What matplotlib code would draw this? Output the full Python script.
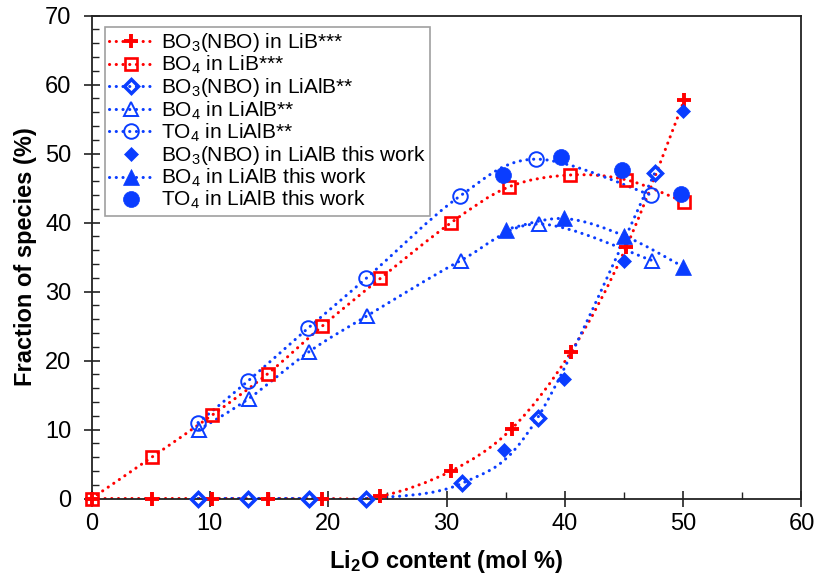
import matplotlib
matplotlib.use("Agg")
import matplotlib.pyplot as plt
from matplotlib.path import Path
from matplotlib.patches import PathPatch
from matplotlib.lines import Line2D
from matplotlib.ticker import MultipleLocator

plt.rcParams['font.family'] = ['Liberation Sans', 'DejaVu Sans']
plt.rcParams['mathtext.fontset'] = 'custom'
plt.rcParams['mathtext.rm'] = 'Liberation Sans'
plt.rcParams['mathtext.it'] = 'Liberation Sans:italic'
plt.rcParams['mathtext.bf'] = 'Liberation Sans:bold'

RED = '#FF0000'
BLUE = '#0A3DFF'

# LiB*** (literature)
lib_bo3_x = [0, 5.1, 10.2, 14.9, 19.5, 24.4, 30.4, 35.5, 40.5, 45.2, 50.1]
lib_bo3_y = [0, 0, 0, 0, 0, 0.3, 4.0, 10.1, 21.2, 36.5, 57.8]
lib_bo4_x = [0, 5.1, 10.2, 14.9, 19.5, 24.4, 30.4, 35.3, 40.4, 45.2, 50.1]
lib_bo4_y = [0, 6.0, 12.1, 18.1, 25.0, 31.9, 40.0, 45.2, 46.9, 46.2, 43.0]

# LiAlB** (literature)
lialb_bo3_x = [9.0, 13.2, 18.4, 23.2, 31.3, 37.7, 47.6]
lialb_bo3_y = [0, 0, 0, 0, 2.2, 11.7, 47.2]
lialb_bo4_x = [9.1, 13.3, 18.4, 23.3, 31.2, 37.8, 47.4]
lialb_bo4_y = [10.0, 14.5, 21.3, 26.5, 34.5, 39.8, 34.5]
lialb_to4_x = [9.0, 13.2, 18.3, 23.2, 31.1, 37.6, 47.3]
lialb_to4_y = [11.0, 17.0, 24.7, 31.9, 43.8, 49.2, 44.0]

# LiAlB this work
work_bo3_x = [34.9, 39.9, 45.0, 50.0]
work_bo3_y = [7.1, 17.4, 34.5, 56.2]
work_bo4_x = [35.0, 39.9, 45.0, 50.0]
work_bo4_y = [39.0, 40.6, 38.1, 33.6]
work_to4_x = [34.8, 39.7, 44.8, 49.8]
work_to4_y = [46.9, 49.5, 47.7, 44.1]

labels = [
    'BO$_3$(NBO) in LiB***',
    'BO$_4$ in LiB***',
    'BO$_3$(NBO) in LiAlB**',
    'BO$_4$ in LiAlB**',
    'TO$_4$ in LiAlB**',
    'BO$_3$(NBO) in LiAlB this work',
    'BO$_4$ in LiAlB this work',
    'TO$_4$ in LiAlB this work',
]

LW = 2.2
DOTS = (0, (0.05, 2.15))


def smooth_path(xs, ys):
    # excel-style smoothed line as cubic bezier segments
    pts = list(zip(xs, ys))
    n = len(pts)
    verts = [pts[0]]
    codes = [Path.MOVETO]
    for i in range(n - 1):
        p0 = pts[i - 1] if i > 0 else pts[i]
        p1 = pts[i]
        p2 = pts[i + 1]
        p3 = pts[i + 2] if i + 2 < n else pts[i + 1]
        c1 = (p1[0] + (p2[0] - p0[0]) / 6, p1[1] + (p2[1] - p0[1]) / 6)
        c2 = (p2[0] - (p3[0] - p1[0]) / 6, p2[1] - (p3[1] - p1[1]) / 6)
        verts += [c1, c2, p2]
        codes += [Path.CURVE4] * 3
    return Path(verts, codes)


def draw_curve(ax, xs, ys, color):
    patch = PathPatch(smooth_path(xs, ys), fill=False, edgecolor=color,
                      lw=LW, linestyle=DOTS, zorder=2)
    patch.set_capstyle('round')
    ax.add_patch(patch)


fig = plt.figure(figsize=(8.18, 5.79), dpi=100)
ax = fig.add_axes([0.1119, 0.139, 0.8679, 0.8339])

series = [
    (lib_bo3_x, lib_bo3_y, RED, True,
     dict(marker='+', ms=10.5, mew=2.8, mec=RED)),
    (lib_bo4_x, lib_bo4_y, RED, True,
     dict(marker='s', ms=9, mew=1.9, mfc='none', mec=RED)),
    (lialb_bo3_x, lialb_bo3_y, BLUE, True,
     dict(marker='D', ms=7.5, mew=2.5, mfc='none', mec=BLUE)),
    (lialb_bo4_x, lialb_bo4_y, BLUE, True,
     dict(marker='^', ms=10.5, mew=1.4, mfc='none', mec=BLUE)),
    (lialb_to4_x, lialb_to4_y, BLUE, True,
     dict(marker='o', ms=10.5, mew=1.4, mfc='none', mec=BLUE)),
    (work_bo3_x, work_bo3_y, BLUE, False,
     dict(marker='D', ms=7.4, mew=0.5, mfc=BLUE, mec=BLUE)),
    (work_bo4_x, work_bo4_y, BLUE, True,
     dict(marker='^', ms=11, mew=0.5, mfc=BLUE, mec=BLUE)),
    (work_to4_x, work_to4_y, BLUE, False,
     dict(marker='o', ms=11.5, mew=0.5, mfc=BLUE, mec=BLUE)),
]

handles = []
for (xs, ys, color, has_line, mk), lab in zip(series, labels):
    if has_line:
        draw_curve(ax, xs, ys, color)
    ax.plot(xs, ys, linestyle='none', clip_on=False, zorder=3, **mk)
    if has_line:
        h = Line2D([], [], color=color, lw=LW, linestyle=DOTS,
                   dash_capstyle='round', **mk)
    else:
        h = Line2D([], [], linestyle='none', **mk)
    handles.append(h)

ax.set_xlim(0, 60)
ax.set_ylim(0, 70)
ax.xaxis.set_major_locator(MultipleLocator(10))
ax.xaxis.set_minor_locator(MultipleLocator(5))
ax.yaxis.set_major_locator(MultipleLocator(10))
ax.yaxis.set_minor_locator(MultipleLocator(2))
ax.tick_params(which='major', direction='inout', length=11, width=1.2,
               labelsize=17, color='#222222')
ax.tick_params(axis='x', which='major', pad=5)
ax.tick_params(axis='y', which='major', pad=9)
ax.tick_params(which='minor', direction='in', length=5, width=1.0, color='#222222')
for s in ax.spines.values():
    s.set_linewidth(1.3)
    s.set_color('#222222')

ax.set_xlabel(r'Li$_\mathbf{2}$O content (mol %)', fontsize=17,
              fontweight='bold', labelpad=9)
ax.set_ylabel('Fraction of species (%)', fontsize=17, fontweight='bold',
              labelpad=6)

leg = ax.legend(handles, labels, loc='upper left', bbox_to_anchor=(0.019, 0.977),
                borderaxespad=0, fontsize=15, numpoints=1, handlelength=2.1,
                handletextpad=0.38, borderpad=0.2, labelspacing=0.0,
                fancybox=False, framealpha=1)
leg.get_frame().set_edgecolor('#A0A0A0')
leg.get_frame().set_linewidth(1.2)

fig.savefig('out.png', dpi=100)
